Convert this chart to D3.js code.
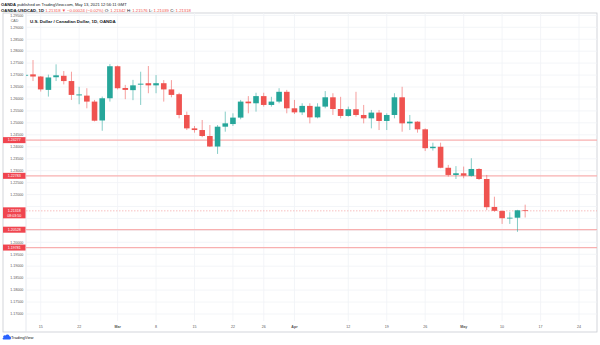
<!DOCTYPE html>
<html><head><meta charset="utf-8">
<script src="https://cdn.jsdelivr.net/npm/d3@7"></script>
<style>
html,body{margin:0;padding:0;background:#fff;}
svg{display:block;font-family:"Liberation Sans",Arial,sans-serif;}
</style></head>
<body><svg id="c" width="600" height="345"></svg>
<script>
// ---------- data ----------
const startDate = "2021-02-11";
const opens = [1.2698,1.2703,1.2694,1.2638,1.2691,1.2697,1.2675,1.2615,1.2614,1.2589,1.2510,1.2603,1.2737,1.2646,1.2637,1.2660,1.2666,1.2657,1.2666,1.2640,1.2620,1.2533,1.2477,1.2470,1.2445,1.2401,1.2484,1.2495,1.2522,1.2589,1.2582,1.2612,1.2575,1.2589,1.2630,1.2561,1.2544,1.2571,1.2523,1.2568,1.2607,1.2558,1.2529,1.2557,1.2533,1.2519,1.2543,1.2508,1.2533,1.2607,1.2498,1.2505,1.2473,1.2394,1.2400,1.2312,1.2282,1.2289,1.2278,1.2307,1.2265,1.2148,1.2131,1.2100,1.2103,1.21342];
const highs = [1.2707,1.2763,1.2696,1.2702,1.2745,1.2717,1.2714,1.2651,1.2645,1.2596,1.2610,1.2746,1.2740,1.2659,1.2680,1.2714,1.2738,1.2700,1.2679,1.2679,1.2626,1.2547,1.2487,1.2512,1.2491,1.2491,1.2547,1.2540,1.2596,1.2612,1.2626,1.2626,1.2609,1.2645,1.2638,1.2596,1.2582,1.2582,1.2582,1.2633,1.2624,1.2609,1.2568,1.2630,1.2575,1.2554,1.2554,1.2540,1.2624,1.2651,1.2533,1.2507,1.2477,1.2417,1.2417,1.2324,1.2319,1.2317,1.2352,1.2310,1.2282,1.2191,1.2135,1.2126,1.2136,1.21576];
const lows = [1.2694,1.2675,1.2631,1.2610,1.2675,1.2661,1.2596,1.2578,1.2561,1.2506,1.2467,1.2589,1.2640,1.2599,1.2595,1.2575,1.2624,1.2624,1.2589,1.2607,1.2519,1.2470,1.2459,1.2440,1.2399,1.2370,1.2463,1.2487,1.2515,1.2540,1.2547,1.2568,1.2568,1.2582,1.2540,1.2537,1.2533,1.2498,1.2519,1.2561,1.2533,1.2519,1.2526,1.2526,1.2498,1.2477,1.2470,1.2470,1.2519,1.2463,1.2470,1.2459,1.2382,1.2384,1.2310,1.2275,1.2265,1.2268,1.2275,1.2261,1.2135,1.2128,1.2077,1.2077,1.2044,1.21039];
const closes = [1.2701,1.2694,1.2640,1.2690,1.2699,1.2675,1.2617,1.2619,1.2589,1.2509,1.2603,1.2737,1.2645,1.2638,1.2657,1.2664,1.2657,1.2666,1.2640,1.2617,1.2533,1.2477,1.2470,1.2445,1.2401,1.2484,1.2498,1.2522,1.2589,1.2582,1.2612,1.2575,1.2589,1.2630,1.2561,1.2544,1.2571,1.2523,1.2568,1.2607,1.2558,1.2529,1.2557,1.2533,1.2519,1.2543,1.2508,1.2533,1.2607,1.2498,1.2505,1.2473,1.2394,1.2400,1.2312,1.2282,1.2289,1.2279,1.2307,1.2265,1.2147,1.2132,1.2101,1.2103,1.2134,1.21318];
const levelValues = [1.24277, 1.22783, 1.20528, 1.19781];
const lastPrice = 1.21318;
const countdown = "08:03:50";
const xTickDates = ["2021-02-15","2021-02-22","2021-03-01","2021-03-08","2021-03-15","2021-03-22","2021-03-26","2021-04-01","2021-04-12","2021-04-19","2021-04-26","2021-05-03","2021-05-10","2021-05-17","2021-05-24"];
const xTickLabels = ["15","22","Mar","8","15","22","26","Apr","12","19","26","May","10","17","24"];
const yTicks = d3.range(0, 26).map(i => +(1.17 + i*0.005).toFixed(3));
const chartTitle = "U.S. Dollar / Canadian Dollar, 1D, OANDA";

// trading days (weekdays) from start, extended into the future for the axis
const fmt = d3.utcFormat("%Y-%m-%d");
const days = [];
for (let d = new Date(startDate + "T00:00:00Z"); days.length < 75; d = new Date(d.getTime() + 864e5)) {
  const wd = d.getUTCDay(); if (wd !== 0 && wd !== 6) days.push(fmt(d));
}
const candles = opens.map((o,i) => ({i, date: days[i], o, h: highs[i], l: lows[i], c: closes[i]}));

// ---------- layout ----------
const svg = d3.select("#c");
const L = 26, R = 597, T = 13, B = 321, FB = 332;
const x = d3.scaleLinear().domain([2, 62]).range([40.7, 502.1]);
const y = d3.scaleLinear().domain([1.17, 1.29]).range([314, 27.3]);
const red = "#ef5350", green = "#26a69a";

svg.append("clipPath").attr("id","plot").append("rect").attr("x",L).attr("y",T).attr("width",R-L).attr("height",B-T);
svg.append("clipPath").attr("id","axisY").append("rect").attr("x",3).attr("y",T).attr("width",L-3).attr("height",B-T);

// header
const hdr = svg.append("g").attr("font-size",4.1).attr("fill","#131722");
const h1 = hdr.append("text").attr("x",1).attr("y",6);
h1.append("tspan").attr("font-weight","bold").text("OANDA");
h1.append("tspan").text(" published on TradingView.com, May 13, 2021 12:56:11 GMT");
const h2 = hdr.append("text").attr("x",1).attr("y",12).attr("font-size",4.25);
const parts = [["OANDA:USDCAD, 1D ","#131722","bold"],["1.21318 ",red],["\u25BC \u22120.00024 (\u22120.02%) ",red],["O: ","#131722"],["1.21342 ",red],["H: ","#131722"],["1.21576 ",red],["L: ","#131722"],["1.21039 ",red],["C: ","#131722"],["1.21318",red]];
parts.forEach(p => h2.append("tspan").attr("fill",p[1]).attr("font-weight",p[2]||"normal").text(p[0]));

// frame
svg.append("rect").attr("x",3).attr("y",T).attr("width",R-3).attr("height",FB-T)
  .attr("fill","none").attr("stroke","#c9cbd1").attr("stroke-width",0.8);
svg.append("line").attr("x1",L).attr("x2",L).attr("y1",T).attr("y2",FB).attr("stroke","#e0e3eb").attr("stroke-width",0.8);

// grid
const grid = svg.append("g").attr("clip-path","url(#plot)");
grid.selectAll(".hg").data(yTicks).join("line")
  .attr("x1",L).attr("x2",R).attr("y1",d=>y(d)).attr("y2",d=>y(d))
  .attr("stroke","#f0f2f6").attr("stroke-width",0.8);
grid.selectAll(".vg").data(xTickDates).join("line")
  .attr("x1",d=>x(days.indexOf(d))).attr("x2",d=>x(days.indexOf(d))).attr("y1",T).attr("y2",B)
  .attr("stroke","#f0f2f6").attr("stroke-width",0.8);

// y axis labels (hidden where a price tag covers them)
const tagSpans = levelValues.map(v => [y(v)-3.2, y(v)+3.2]).concat([[y(lastPrice)-3.7, y(lastPrice)+7.7]]);
const visibleTicks = yTicks.filter(t => !tagSpans.some(s => y(t)+1.8 > s[0] && y(t)-1.8 < s[1]));
const ya = svg.append("g").attr("clip-path","url(#axisY)").attr("font-size",3.6).attr("fill","#555").attr("text-anchor","end");
ya.selectAll("text").data(visibleTicks).join("text")
  .attr("x",23.3).attr("y",d=>y(d)).attr("dy","0.35em").text(d=>d.toFixed(5));
svg.append("rect").attr("x",8).attr("y",17.5).attr("width",14).attr("height",5).attr("fill","#fff");
svg.append("text").attr("x",14.5).attr("y",21.6).attr("text-anchor","middle").attr("font-size",3.6).attr("fill","#666").text("CAD");

// chart title
svg.append("text").attr("x",30).attr("y",23).attr("font-size",4.4).attr("font-weight","bold").attr("fill","#131722").text(chartTitle);

// x axis labels
svg.append("g").attr("font-size",3.6).attr("fill","#555").attr("text-anchor","middle")
  .selectAll("text").data(xTickDates).join("text")
  .attr("x",d=>x(days.indexOf(d))).attr("y",328).text((d,i)=>xTickLabels[i])
  .attr("font-weight",(d,i)=>/[A-Za-z]/.test(xTickLabels[i])?"bold":"normal");

// level lines
const plot = svg.append("g").attr("clip-path","url(#plot)");
plot.selectAll(".lvl").data(levelValues).join("line")
  .attr("x1",L).attr("x2",R).attr("y1",d=>y(d)).attr("y2",d=>y(d))
  .attr("stroke","#f8b0b0").attr("stroke-width",1.3);
plot.append("line").attr("x1",L).attr("x2",R).attr("y1",y(lastPrice)).attr("y2",y(lastPrice))
  .attr("stroke","#f5a3a3").attr("stroke-width",0.7).attr("stroke-dasharray","1.5,1.5");

// candles
const bw = 5.6;
const cg = plot.selectAll(".cd").data(candles).join("g");
cg.append("line").attr("x1",d=>x(d.i)).attr("x2",d=>x(d.i)).attr("y1",d=>y(d.h)).attr("y2",d=>y(d.l))
  .attr("stroke",d=>d.c>=d.o?green:red).attr("stroke-width",0.8).attr("stroke-opacity",0.7);
cg.append("rect").attr("x",d=>x(d.i)-bw/2).attr("width",bw)
  .attr("y",d=>y(Math.max(d.o,d.c))).attr("height",d=>Math.max(0.8, Math.abs(y(d.o)-y(d.c))))
  .attr("fill",d=>d.c>=d.o?green:red);

// price tags
const tags = svg.append("g").attr("font-size",3.6).attr("fill","#fff").attr("text-anchor","middle");
levelValues.forEach(v => {
  tags.append("rect").attr("x",3).attr("y",y(v)-3).attr("width",22.5).attr("height",6).attr("fill","#f0454f");
  tags.append("text").attr("x",14.2).attr("y",y(v)).attr("dy","0.35em").text(v.toFixed(5));
});
tags.append("rect").attr("x",3).attr("y",y(lastPrice)-3.5).attr("width",22.5).attr("height",11).attr("fill","#f0454f");
tags.append("text").attr("x",14.2).attr("y",y(lastPrice)).attr("dy","0.35em").text(lastPrice.toFixed(5));
tags.append("text").attr("x",14.2).attr("y",y(lastPrice)+4.8).attr("dy","0.35em").text(countdown);

// logo
const lg = svg.append("g");
lg.append("path").attr("d","M3.5,339.5 h6 a1.6,1.6 0 0 0 0,-3.2 a2.2,2.2 0 0 0 -4,-0.8 a1.5,1.5 0 0 0 -2,2.2 a0.9,0.9 0 0 0 0,1.8z").attr("fill","#2962ff");
lg.append("text").attr("x",11).attr("y",339.3).attr("font-size",4.1).attr("fill","#131722").text("TradingView");
</script></body></html>
